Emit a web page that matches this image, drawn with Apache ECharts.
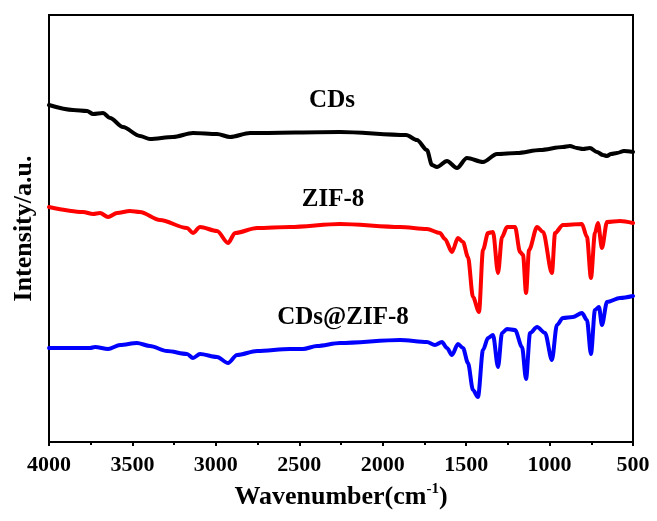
<!DOCTYPE html>
<html>
<head>
<meta charset="utf-8">
<script src="https://cdn.jsdelivr.net/npm/echarts@6/dist/echarts.min.js"></script>
<style>
html,body{margin:0;padding:0;background:#fff;}
#chart{width:657px;height:521px;}
</style>
</head>
<body>
<div id="chart"></div>
<script>
// Wavenumber (cm-1) / intensity (a.u.) pairs
const cdsWave = [4000,3856,3772,3736,3676,3634,3557,3455,3395,3257,3137,2993,2915,2795,2256,1860,1795,1735,1705,1675,1615,1555,1495,1399,1315,1195,1057,920,878,836,800,758,716,680,656,632,596,554,500];
const cdsVal  = [337,332,331,328,329,324,315,306,303,305,309,308,305,309,310,307,302,292,277,275,281,274,284,280,288,289,292,295,296,294,293,294,290,287,286,288,289,291,290];

const zifWave = [4000,3796,3736,3694,3646,3592,3515,3455,3335,3173,3137,3095,2993,2927,2885,2753,2556,2256,1896,1735,1657,1627,1585,1549,1519,1489,1459,1423,1399,1369,1339,1309,1285,1255,1207,1177,1159,1141,1123,1075,1039,986,967,920,806,776,752,728,710,686,656,578,500];
const zifVal  = [235,230,228,229,225,229,231,230,222,214,209,215,211,199,209,214,215,218,215,213,209,203,190,204,200,185,145,130,192,209,210,169,205,215,215,190,187,149,192,215,210,169,209,217,218,205,164,209,219,194,220,221,219];

const comWave = [4000,3754,3724,3646,3574,3473,3395,3293,3173,3137,3095,2993,2927,2873,2753,2556,2478,2394,2256,1896,1735,1687,1645,1615,1585,1549,1519,1489,1459,1429,1399,1369,1339,1309,1285,1255,1207,1165,1141,1117,1075,1027,986,956,920,860,806,776,752,728,704,686,656,578,500];
const comVal  = [94,94,95,93,97,99,96,91,88,84,88,85,79,87,91,93,93,96,99,102,100,97,100,94,87,98,94,79,52,45,92,104,107,75,109,113,112,95,63,109,115,109,82,117,124,125,129,122,88,132,135,117,140,144,146];

const seriesNames = ['CDs','ZIF-8','CDs@ZIF-8'];
const seriesColors = ['#000000','#ff0000','#0000ff'];
// annotation anchors [wavenumber, intensity]
const labelWave = [2304, 2298, 2238];
const labelVal  = [341, 242, 124];

const xTicks = {min:500, max:4000, interval:500};
const yRange = {min:0, max:427};

function zip(a,b){return a.map((v,i)=>[v,b[i]]);}

const serif = "'Liberation Serif','Times New Roman',serif";
const chart = echarts.init(document.getElementById('chart'), null, {renderer:'canvas'});
const lineData = [zip(cdsWave,cdsVal), zip(zifWave,zifVal), zip(comWave,comVal)];

const series = lineData.map((d,i)=>({
  type:'line', name:seriesNames[i], data:d, showSymbol:false, symbol:'none',
  smooth:0.3, smoothMonotone:'x',
  lineStyle:{color:seriesColors[i], width:4, join:'round', cap:'round'},
  itemStyle:{color:seriesColors[i]}, silent:true, z:3
}));
series.push({
  type:'scatter', symbolSize:0, silent:true, z:5,
  itemStyle:{opacity:1},
  data: labelWave.map((w,i)=>({value:[w,labelVal[i]], name:seriesNames[i]})),
  label:{show:true, position:'inside', formatter:p=>p.name, color:'#000', opacity:1,
    fontFamily:serif, fontWeight:'bold', fontSize:25}
});

chart.setOption({
  animation:false,
  backgroundColor:'#ffffff',
  grid:{left:49, right:24, top:15, bottom:79, show:true, borderColor:'#000', borderWidth:2, backgroundColor:'transparent'},
  xAxis:{
    type:'value', inverse:true, min:xTicks.min, max:xTicks.max, interval:xTicks.interval,
    name:'{a|Wavenumber(cm}{s|-1}{a|)}', nameLocation:'middle', nameGap:40,
    nameTextStyle:{rich:{
      a:{fontFamily:serif, fontWeight:'bold', fontSize:26, color:'#000', verticalAlign:'bottom', lineHeight:28},
      s:{fontFamily:serif, fontWeight:'bold', fontSize:15, color:'#000', verticalAlign:'top', padding:[0,0,12,0], lineHeight:28}
    }},
    axisLine:{show:true, onZero:false, lineStyle:{color:'#000', width:2}},
    axisTick:{show:true, inside:false, length:4, lineStyle:{color:'#000', width:2}},
    minorTick:{show:true, splitNumber:2, length:3, lineStyle:{color:'#000', width:2}},
    splitLine:{show:false},
    axisLabel:{color:'#000', fontFamily:serif, fontWeight:'bold', fontSize:22, margin:12,
      formatter:v=>String(v)}
  },
  yAxis:{
    type:'value', min:yRange.min, max:yRange.max,
    name:'Intensity/a.u.', nameLocation:'middle', nameGap:12, nameRotate:90,
    nameTextStyle:{fontFamily:serif, fontWeight:'bold', fontSize:26, color:'#000'},
    axisLine:{show:true, lineStyle:{color:'#000', width:2}},
    axisTick:{show:false}, axisLabel:{show:false}, splitLine:{show:false}
  },
  series:series
});
</script>
</body>
</html>
